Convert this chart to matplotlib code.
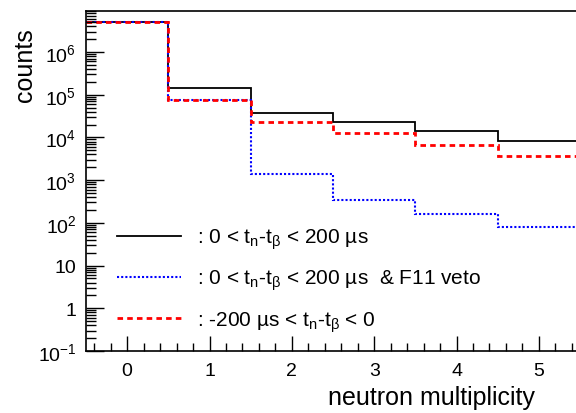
import matplotlib as mpl
mpl.use('Agg')
import matplotlib.pyplot as plt
import numpy as np
from matplotlib.ticker import LogLocator, MultipleLocator, FuncFormatter, NullFormatter

mpl.rcParams['font.family'] = ['Liberation Sans', 'DejaVu Sans']
mpl.rcParams['mathtext.fontset'] = 'custom'
mpl.rcParams['mathtext.rm'] = 'Liberation Sans'
mpl.rcParams['mathtext.it'] = 'Liberation Sans:italic'

# histogram data
bin_edges = [-0.5, 0.5, 1.5, 2.5, 3.5, 4.5, 5.5]
counts_all = [5.0e6, 1.45e5, 3.7e4, 2.3e4, 1.38e4, 8.2e3]   # 0 < tn-tb < 200 us
counts_veto = [5.0e6, 7.6e4, 1.4e3, 350, 160, 82]           # same & F11 veto
counts_bkg = [5.0e6, 7.6e4, 2.3e4, 1.26e4, 6.6e3, 3.6e3]    # -200 us < tn-tb < 0

lab_all = r": 0 < t$_{\mathrm{n}}$-t$_{\mathrm{\beta}}$ < 200 µs"
lab_veto = r": 0 < t$_{\mathrm{n}}$-t$_{\mathrm{\beta}}$ < 200 µs  & F11 veto"
lab_bkg = r": -200 µs < t$_{\mathrm{n}}$-t$_{\mathrm{\beta}}$ < 0"

fig = plt.figure(figsize=(5.76, 4.14), dpi=100)
ax = fig.add_axes([86/576, 62/414, 494/576, 340/414])

l1 = ax.stairs(counts_all, bin_edges, color='black', lw=1.3, baseline=None, label=lab_all)
l2 = ax.stairs(counts_veto, bin_edges, color='blue', lw=1.5, ls=(0, (1, 1)), baseline=None, label=lab_veto)
l3 = ax.stairs(counts_bkg, bin_edges, color='red', lw=2.0, ls=(0, (2, 1.5)), baseline=None, label=lab_bkg)

ax.set_yscale('log')
ax.set_xlim(-0.5, 5.5)
ax.set_ylim(0.1, 9.1e6)

def yfmt(v, pos):
    e = int(round(np.log10(v)))
    if e == 0:
        return "1"
    if e == 1:
        return "10"
    if e < 0:
        return r"10$^{\mathrm{-%d}}$" % (-e)
    return r"10$^{\mathrm{%d}}$" % e

ax.yaxis.set_major_locator(LogLocator(base=10, numticks=20))
ax.yaxis.set_minor_locator(LogLocator(base=10, subs=np.arange(2, 10), numticks=20))
ax.yaxis.set_major_formatter(FuncFormatter(yfmt))
ax.yaxis.set_minor_formatter(NullFormatter())
ax.xaxis.set_major_locator(MultipleLocator(1))
ax.xaxis.set_minor_locator(MultipleLocator(0.2))

ax.tick_params(which='both', direction='in', top=False, right=False, labelsize=14, width=1)
ax.tick_params(axis='y', which='major', length=13, pad=7)
ax.tick_params(axis='y', which='minor', length=7)
ax.tick_params(axis='x', which='major', length=11, pad=8)
ax.tick_params(axis='x', which='minor', length=6)
for s in ax.spines.values():
    s.set_linewidth(1.2)

ax.set_ylabel("counts", fontsize=18, loc='top')
ax.yaxis.set_label_coords(-0.099, 0.953)
ax.set_xlabel("neutron multiplicity", fontsize=18, loc='right')
ax.xaxis.set_label_coords(0.909, -0.1)

leg = ax.legend(handles=[l1, l2, l3], loc='upper left', bbox_to_anchor=(0.045, 0.39),
                frameon=False, fontsize=15, handlelength=3.1, handletextpad=0.75,
                labelspacing=0.8, borderaxespad=0)

fig.savefig("out.png", dpi=100)
